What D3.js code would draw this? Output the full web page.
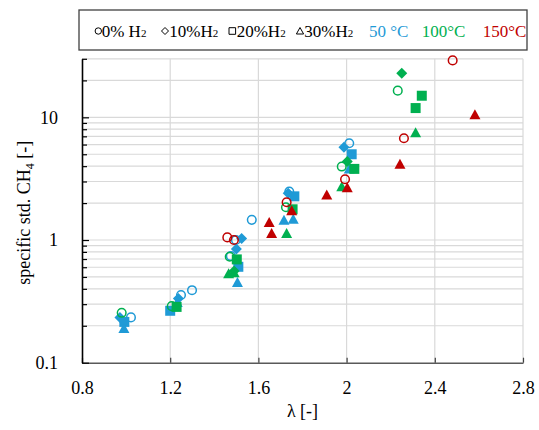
<!DOCTYPE html>
<html><head><meta charset="utf-8">
<script src="https://cdn.jsdelivr.net/npm/d3@7"></script>
<style>
body{margin:0;background:#fff;}
text{font-family:"Liberation Serif","Times New Roman",serif;fill:#000;}
</style></head>
<body><svg id="c" width="539" height="430"></svg>
<script>
// ---- data ----
const xTicks = [0.8, 1.2, 1.6, 2, 2.4, 2.8];
const yTickLabels = [0.1, 1, 10];
const temps = ["50 °C", "100°C", "150°C"];
const h2Levels = ["0% H", "10%H", "20%H", "30%H"];

const b0_lambda = [1.022, 1.249, 1.299, 1.475, 1.498, 1.57, 1.74, 2.012];
const b0_ch4    = [0.234, 0.356, 0.39, 0.74, 1.0, 1.46, 2.48, 6.15];
const b10_lambda = [0.972, 1.237, 1.50, 1.524, 1.735, 1.988];
const b10_ch4    = [0.234, 0.334, 0.845, 1.03, 2.4, 5.71];
const b20_lambda = [0.992, 1.20, 1.509, 1.763, 2.023];
const b20_ch4    = [0.215, 0.265, 0.605, 2.27, 5.0];
const b30_lambda = [0.99, 1.232, 1.505, 1.716, 1.758, 2.012];
const b30_ch4    = [0.19, 0.31, 0.45, 1.45, 1.48, 3.8];

const g0_lambda = [0.98, 1.207, 1.47, 1.725, 1.978, 2.232];
const g0_ch4    = [0.255, 0.289, 0.73, 1.85, 3.97, 16.5];
const g10_lambda = [1.49, 2.003, 2.25];
const g10_ch4    = [0.56, 4.36, 22.9];
const g20_lambda = [1.229, 1.502, 1.755, 2.035, 2.313, 2.341];
const g20_ch4    = [0.285, 0.695, 1.78, 3.8, 11.9, 15.0];
const g30_lambda = [1.465, 1.49, 1.728, 1.978, 2.313];
const g30_ch4    = [0.53, 0.54, 1.13, 2.72, 7.5];

const r0_lambda = [1.459, 1.489, 1.728, 1.993, 2.26, 2.481];
const r0_ch4    = [1.05, 1.0, 2.03, 3.13, 6.76, 29.1];
const r30_lambda = [1.649, 1.66, 1.751, 1.91, 2.003, 2.242, 2.582];
const r30_ch4    = [1.39, 1.13, 1.73, 2.33, 2.67, 4.15, 10.5];

const colors = {"50 °C": "#1f9ad6", "100°C": "#00b050", "150°C": "#c00000"};

const series = [
  {t: "50 °C", s: "circle", x: b0_lambda, y: b0_ch4},
  {t: "50 °C", s: "diamond", x: b10_lambda, y: b10_ch4},
  {t: "50 °C", s: "square", x: b20_lambda, y: b20_ch4},
  {t: "50 °C", s: "triangle", x: b30_lambda, y: b30_ch4},
  {t: "100°C", s: "circle", x: g0_lambda, y: g0_ch4},
  {t: "100°C", s: "diamond", x: g10_lambda, y: g10_ch4},
  {t: "100°C", s: "square", x: g20_lambda, y: g20_ch4},
  {t: "100°C", s: "triangle", x: g30_lambda, y: g30_ch4},
  {t: "150°C", s: "circle", x: r0_lambda, y: r0_ch4},
  {t: "150°C", s: "triangle", x: r30_lambda, y: r30_ch4}
];

// ---- layout ----
const svg = d3.select("#c");
const L = 82, R = 523, T = 58.8, B = 362.7;
const x = d3.scaleLinear().domain([0.8, 2.8]).range([L, R]);
const y = d3.scaleLog().domain([0.1, 30]).range([B, T]);

// grid
const gridVals = [];
for (const dec of [0.1, 1, 10]) for (let k = 1; k <= 9; k++) { const v = dec * k; if (v > 0.1 + 1e-9 && v <= 30 + 1e-9) gridVals.push(+v.toPrecision(3)); }
svg.append("g").selectAll("line").data(gridVals).join("line")
  .attr("x1", L).attr("x2", R).attr("y1", d => y(d)).attr("y2", d => y(d))
  .attr("stroke", "#d9d9d9").attr("stroke-width", 1.2);
svg.append("g").selectAll("line").data(xTicks.slice(1)).join("line")
  .attr("x1", d => x(d)).attr("x2", d => x(d)).attr("y1", T).attr("y2", B)
  .attr("stroke", "#d9d9d9").attr("stroke-width", 1.2);

// axes
const xAxis = d3.axisBottom(x).tickValues(xTicks).tickSizeInner(-5).tickSizeOuter(0).tickFormat(d3.format("~g"));
const gx = svg.append("g").attr("transform", `translate(0,${B})`).call(xAxis);
gx.select(".domain").attr("stroke", "#595959").attr("stroke-width", 1.6);
gx.selectAll(".tick line").attr("stroke", "#404040").attr("stroke-width", 1.2);
gx.selectAll(".tick text").attr("dy", null).attr("y", 31).style("font-size", "18px").style("font-family", "Liberation Serif, serif");

const yAxisMinor = d3.axisLeft(y).tickValues(gridVals.filter(v => !yTickLabels.includes(v))).tickSizeInner(-5).tickSizeOuter(0).tickFormat("");
const gym = svg.append("g").attr("transform", `translate(${L},0)`).call(yAxisMinor);
gym.select(".domain").remove();
gym.selectAll(".tick line").attr("stroke", "#000").attr("stroke-width", 1.2);

const yAxis = d3.axisLeft(y).tickValues(yTickLabels).tickSizeInner(-7).tickSizeOuter(0).tickFormat(d3.format("~g"));
const gy = svg.append("g").attr("transform", `translate(${L},0)`).call(yAxis);
gy.select(".domain").attr("stroke", "#000").attr("stroke-width", 1.6);
gy.selectAll(".tick line").attr("stroke", "#000").attr("stroke-width", 1.2);
gy.selectAll(".tick text").attr("x", -24).style("font-size", "18px").style("font-family", "Liberation Serif, serif");

// titles
svg.append("text").attr("x", (L + R) / 2).attr("y", 417).attr("text-anchor", "middle")
  .style("font-size", "18px").text("λ [-]");
const yt = svg.append("text").attr("transform", `translate(30,${(T + B) / 2 + 2}) rotate(-90)`)
  .attr("text-anchor", "middle").style("font-size", "18px");
yt.append("tspan").text("specific std. CH");
yt.append("tspan").attr("dy", 4).style("font-size", "12px").text("4");
yt.append("tspan").attr("dy", -4).text(" [-]");

// markers
function shapePath(s) {
  if (s === "square") return "M-5,-5H5V5H-5Z";
  if (s === "diamond") return "M0,-5.5L5.5,0L0,5.5L-5.5,0Z";
  if (s === "triangle") return "M0,-5.5L5.5,4.5L-5.5,4.5Z";
  return null;
}
const pts = [];
series.forEach(se => se.x.forEach((v, i) => pts.push({t: se.t, s: se.s, lx: v, v: se.y[i]})));
const mk = svg.append("g");
pts.forEach(p => {
  const c = colors[p.t];
  if (p.s === "circle") {
    mk.append("circle").attr("cx", x(p.lx)).attr("cy", y(p.v)).attr("r", 4.3)
      .attr("fill", "none").attr("stroke", c).attr("stroke-width", 1.5);
  } else {
    mk.append("path").attr("d", shapePath(p.s)).attr("transform", `translate(${x(p.lx)},${y(p.v)})`).attr("fill", c);
  }
});

// legend
svg.append("rect").attr("x", 79).attr("y", 10).attr("width", 448).attr("height", 40)
  .attr("fill", "#fff").attr("stroke", "#404040").attr("stroke-width", 1.3);
const lg = svg.append("g");
const symX = [98.3, 165, 232.3, 300];
const txtX = [101.7, 169.3, 236.7, 304.3];
const lsyms = ["circle", "diamond", "square", "triangle"];
const lsPath = {
  diamond: "M0,-3.5L3.5,0L0,3.5L-3.5,0Z",
  square: "M-3.3,-3.3H3.3V3.3H-3.3Z",
  triangle: "M0,-3.5L3.6,3L-3.6,3Z"
};
h2Levels.forEach((lab, i) => {
  if (lsyms[i] === "circle") lg.append("circle").attr("cx", symX[i]).attr("cy", 31).attr("r", 3.2).attr("fill", "none").attr("stroke", "#000").attr("stroke-width", 1);
  else lg.append("path").attr("d", lsPath[lsyms[i]]).attr("transform", `translate(${symX[i]},31)`).attr("fill", "none").attr("stroke", "#000").attr("stroke-width", 1);
  const t = lg.append("text").attr("x", txtX[i]).attr("y", 37).style("font-size", "17px");
  t.append("tspan").text(lab);
  t.append("tspan").style("font-size", "11px").text("2");
});
const tempX = [369, 421.7, 482.7];
temps.forEach((lab, i) => {
  lg.append("text").attr("x", tempX[i]).attr("y", 37).style("font-size", "17px").style("fill", colors[lab]).text(lab);
});
</script></body></html>
